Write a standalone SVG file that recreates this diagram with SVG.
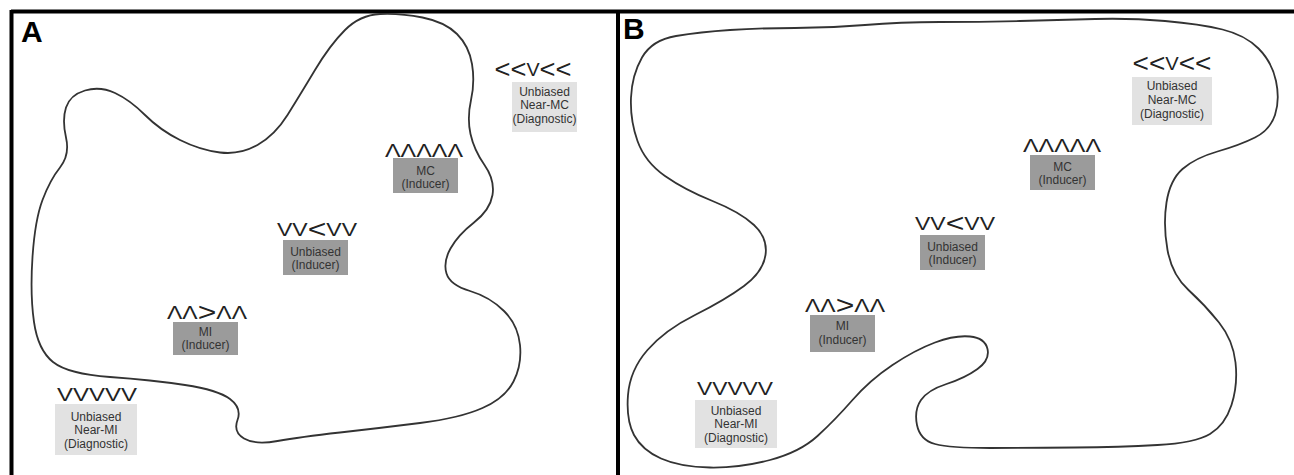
<svg xmlns="http://www.w3.org/2000/svg" width="1294" height="475" viewBox="0 0 1294 475">
<style>
.frame{stroke:#000;stroke-width:4;fill:none}
.blob{fill:none;stroke:#333;stroke-width:1.8;stroke-linejoin:round}
.panel{font-family:"Liberation Sans",Arial,sans-serif;font-weight:bold;font-size:30px;fill:#000}
.chev{font-family:"Liberation Sans",Arial,sans-serif;font-size:18px;fill:#222;text-anchor:middle}
.lt{font-size:25px}
.lbl{font-family:"Liberation Sans",Arial,sans-serif;font-size:12px;fill:#333;text-anchor:middle}
.dark{fill:#9b9b9b}
.light{fill:#e2e2e2}
</style>
<rect width="1294" height="475" fill="#fff"/>
<g id="frames">
<line class="frame" x1="11" y1="11.5" x2="1294" y2="11.5" stroke-width="3"/>
<line class="frame" x1="11.5" y1="10" x2="11.5" y2="475"/>
<line class="frame" x1="618" y1="10" x2="618" y2="475"/>
<text class="panel" x="21" y="42">A</text>
<text class="panel" x="623" y="39">B</text>
</g>
<g id="connectors">
<path id="blobA" class="blob" d="M345,30 Q360,15 380,14 Q400,13 422.5,17.5 Q445,22 457,34 Q469,46 472,64 Q475,82 471,100 Q467,118 470.5,134 Q474,150 484.5,165 Q495,180 492.5,195 Q490,210 474,222.5 Q458,235 450.5,248.5 Q443,262 446.5,273.5 Q450,285 470,291 Q490,297 504,311 Q518,325 520,345 Q522,365 513.5,381.5 Q505,398 482.5,408 Q460,418 420,423 Q380,428 340,432.5 Q300,437 277.5,441 Q255,445 244,438.5 Q233,432 237.5,420 Q242,408 230,399 Q218,390 185,385 Q152,380 110,377 Q68,374 53,362 Q38,350 34,322 Q30,294 32.5,257 Q35,220 42.5,200 Q50,180 60,167.5 Q70,155 66,137.5 Q62,120 66,107.5 Q70,95 85,90.5 Q100,86 115,93 Q130,100 145,115 Q160,130 180,140 Q200,150 220,152.5 Q240,155 257.5,145 Q275,135 287.5,115 Q300,95 315,70 Q330,45 345,30 Z"/>
<path id="blobB" class="blob" d="M642,57.5 Q652,40 676,36 Q700,32 730,30 Q760,28 795,28 Q830,28 865,25 Q900,22 940,22 Q980,22 1020,21 Q1060,20 1095,19 Q1130,18 1165,21 Q1200,24 1222.5,29.5 Q1245,35 1258.5,48.5 Q1272,62 1276,81 Q1280,100 1275,115 Q1270,130 1255,137.5 Q1240,145 1217.5,151.5 Q1195,158 1182.5,169 Q1170,180 1166.5,202.5 Q1163,225 1167.5,250 Q1172,275 1188.5,290 Q1205,305 1219,322.5 Q1233,340 1235.5,362.5 Q1238,385 1231.5,405 Q1225,425 1210,434 Q1195,443 1157.5,445 Q1120,447 1075,447.5 Q1030,448 990,448 Q950,448 935,444 Q920,440 917,425 Q914,410 921,400 Q928,390 946.5,384 Q965,378 977.5,369 Q990,360 987.5,349 Q985,338 970,336.5 Q955,335 935,342.5 Q915,350 892.5,365 Q870,380 852.5,400 Q835,420 817.5,436 Q800,452 770,460 Q740,468 710,467.5 Q680,467 661,458.5 Q642,450 634,435 Q626,420 628,395 Q630,370 647.5,350 Q665,330 695,315 Q725,300 744,286 Q763,272 765.5,255 Q768,238 754,225 Q740,212 712.5,201 Q685,190 665,176 Q645,162 637.5,141 Q630,120 631,97.5 Q632,75 642,57.5 Z"/>
</g>
<g id="A-nearMC">
<text class="chev" x="533" y="76" textLength="77" lengthAdjust="spacingAndGlyphs"><tspan class="lt" dy="2">&lt;&lt;</tspan><tspan dy="-2">V</tspan><tspan class="lt" dy="2">&lt;&lt;</tspan></text>
<rect class="light" x="512" y="82" width="65" height="50"/>
<text class="lbl" x="544.5" y="96">Unbiased</text>
<text class="lbl" x="544.5" y="109">Near-MC</text>
<text class="lbl" x="544.5" y="123">(Diagnostic)</text>
</g>
<g id="A-MC">
<text class="chev" x="424" y="157" textLength="78" lengthAdjust="spacingAndGlyphs">ΛΛΛΛΛ</text>
<rect class="dark" x="393" y="158" width="65" height="35"/>
<text class="lbl" x="425.5" y="175">MC</text>
<text class="lbl" x="425.5" y="188">(Inducer)</text>
</g>
<g id="A-unbiased">
<text class="chev" x="317" y="236" textLength="80" lengthAdjust="spacingAndGlyphs">VV<tspan class="lt" dy="2">&lt;</tspan><tspan dy="-2">VV</tspan></text>
<rect class="dark" x="283" y="240" width="65" height="35"/>
<text class="lbl" x="315.5" y="256">Unbiased</text>
<text class="lbl" x="315.5" y="269">(Inducer)</text>
</g>
<g id="A-MI">
<text class="chev" x="207" y="319" textLength="80" lengthAdjust="spacingAndGlyphs">ΛΛ<tspan class="lt" dy="2">&gt;</tspan><tspan dy="-2">ΛΛ</tspan></text>
<rect class="dark" x="173" y="322" width="65" height="33"/>
<text class="lbl" x="205.5" y="336">MI</text>
<text class="lbl" x="205.5" y="349">(Inducer)</text>
</g>
<g id="A-nearMI">
<text class="chev" x="97" y="401" textLength="80" lengthAdjust="spacingAndGlyphs">VVVVV</text>
<rect class="light" x="55" y="404" width="82" height="51"/>
<text class="lbl" x="96" y="421">Unbiased</text>
<text class="lbl" x="96" y="434">Near-MI</text>
<text class="lbl" x="96" y="448">(Diagnostic)</text>
</g>
<g id="B-nearMC">
<text class="chev" x="1172" y="70" textLength="79" lengthAdjust="spacingAndGlyphs"><tspan class="lt" dy="2">&lt;&lt;</tspan><tspan dy="-2">V</tspan><tspan class="lt" dy="2">&lt;&lt;</tspan></text>
<rect class="light" x="1132" y="77" width="80" height="48"/>
<text class="lbl" x="1172" y="90">Unbiased</text>
<text class="lbl" x="1172" y="104">Near-MC</text>
<text class="lbl" x="1172" y="118">(Diagnostic)</text>
</g>
<g id="B-MC">
<text class="chev" x="1062" y="152" textLength="78" lengthAdjust="spacingAndGlyphs">ΛΛΛΛΛ</text>
<rect class="dark" x="1030" y="155" width="65" height="35"/>
<text class="lbl" x="1062.5" y="171">MC</text>
<text class="lbl" x="1062.5" y="184">(Inducer)</text>
</g>
<g id="B-unbiased">
<text class="chev" x="955" y="230" textLength="80" lengthAdjust="spacingAndGlyphs">VV<tspan class="lt" dy="2">&lt;</tspan><tspan dy="-2">VV</tspan></text>
<rect class="dark" x="920" y="235" width="65" height="35"/>
<text class="lbl" x="952.5" y="251">Unbiased</text>
<text class="lbl" x="952.5" y="264">(Inducer)</text>
</g>
<g id="B-MI">
<text class="chev" x="845" y="312" textLength="80" lengthAdjust="spacingAndGlyphs">ΛΛ<tspan class="lt" dy="2">&gt;</tspan><tspan dy="-2">ΛΛ</tspan></text>
<rect class="dark" x="810" y="315" width="65" height="37"/>
<text class="lbl" x="842.5" y="330">MI</text>
<text class="lbl" x="842.5" y="344">(Inducer)</text>
</g>
<g id="B-nearMI">
<text class="chev" x="735" y="395" textLength="76" lengthAdjust="spacingAndGlyphs">VVVVV</text>
<rect class="light" x="695" y="400" width="82" height="48"/>
<text class="lbl" x="736" y="415">Unbiased</text>
<text class="lbl" x="736" y="428">Near-MI</text>
<text class="lbl" x="736" y="442">(Diagnostic)</text>
</g>
</svg>
